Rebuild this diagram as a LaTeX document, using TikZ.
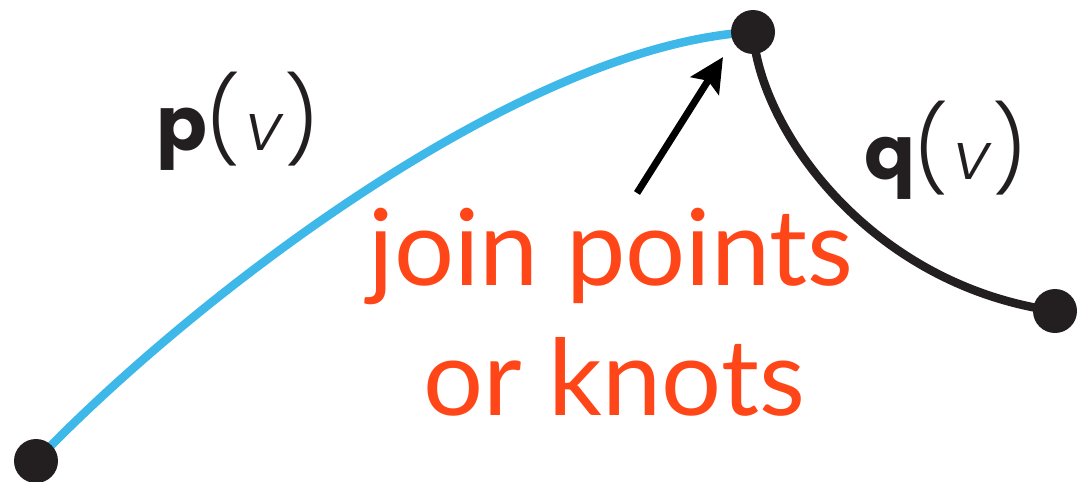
\documentclass[tikz,border=0pt]{standalone}
\usepackage{fontspec}
\setmainfont{Liberation Sans}
\newfontfamily\knotfont{Lato}
\newfontfamily\boldgeo{Poppins Bold}
\newfontfamily\thingeo{Poppins Light}
\newfontfamily\thinslant{Poppins Light}[FakeSlant=0.18]
\usetikzlibrary{arrows.meta}
\definecolor{curveblue}{HTML}{3DB8E8}
\definecolor{knotred}{HTML}{FF4618}
\definecolor{dotblack}{HTML}{231F20}
\newcommand{\fnlabel}[1]{{\boldgeo\fontsize{75}{75}\selectfont #1}\kern-2pt{\thingeo\fontsize{84}{84}\selectfont(}\kern2pt{\thinslant\fontsize{66}{66}\selectfont v}\kern6pt{\thingeo\fontsize{84}{84}\selectfont)}}
\begin{document}
\begin{tikzpicture}[x=1pt,y=-1pt,
  knot/.style={circle,fill=dotblack,minimum size=44pt,inner sep=0pt},
  seg/.style={line width=8.5pt},
  lbl/.style={anchor=base,inner sep=0pt,text=dotblack},
  redtxt/.style={anchor=base,inner sep=0pt,text=knotred,font=\knotfont\fontsize{106}{106}\selectfont},
  pointer/.style={line width=7pt,-{Stealth[length=34pt,width=33pt,inset=6pt]}}]
\useasboundingbox (0,0) rectangle (1077,482);
\coordinate (pa) at (36,461);
\coordinate (pb) at (753,32);
\coordinate (pc) at (1055,311);
\draw[seg,curveblue] (pa) .. controls (190,300) and (520,45) .. (pb);
\draw[seg,dotblack] (pb) .. controls (760,130) and (870,285) .. (pc);
\node[knot] (a) at (pa) {};
\node[knot] (b) at (pb) {};
\node[knot] (c) at (pc) {};
\coordinate (arrtail) at (637,193);
\coordinate (arrtip) at (723,57);
\draw[pointer] (arrtail) -- (arrtip);
\node[lbl] (plabel) at (238,150) {\fnlabel{p}};
\node[lbl] (qlabel) at (946,179) {\fnlabel{q}};
\node[redtxt] (join) at (611,285) {join points};
\node[redtxt] (knots) at (614,415) {or knots};
\end{tikzpicture}
\end{document}
